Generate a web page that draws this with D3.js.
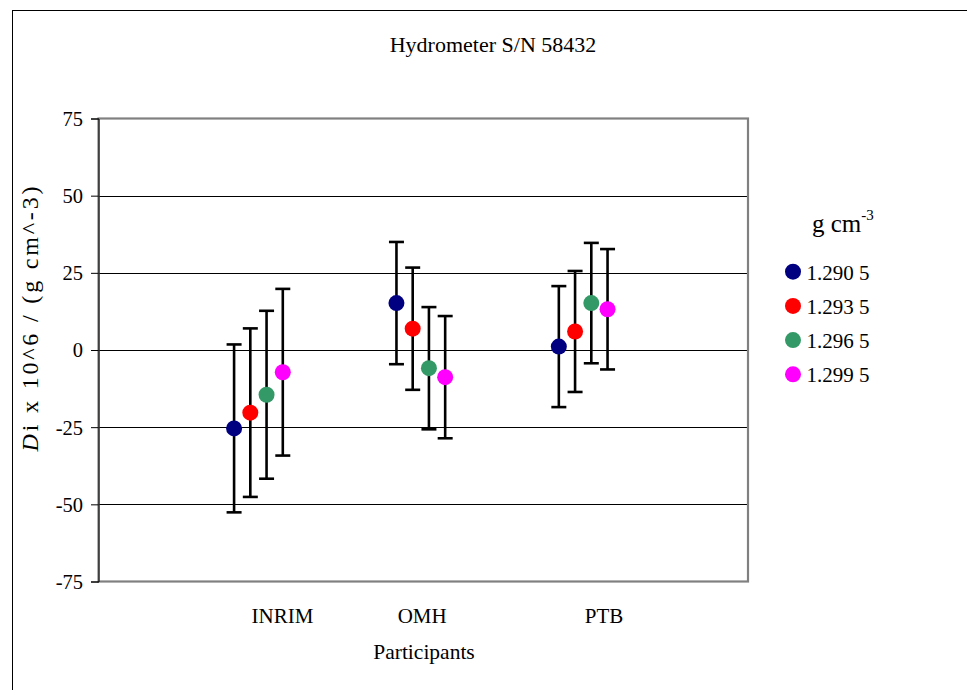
<!DOCTYPE html>
<html><head><meta charset="utf-8">
<script src="https://cdn.jsdelivr.net/npm/d3@7"></script>
<style>body{margin:0;background:#fff}svg{display:block}text{font-family:"Liberation Serif","Times New Roman",Times,serif;fill:#000}</style>
</head><body>
<svg id="c" width="967" height="690" font-family="Liberation Serif, Times New Roman, serif"></svg>
<script>
const participants = ["INRIM","OMH","PTB"];
const seriesNames = ["1.290 5","1.293 5","1.296 5","1.299 5"];
const seriesColors = ["#000080","#ff0000","#339966","#ff00ff"];
// values [series][participant]
const values = [
  [-25.4, 15.2, 1.1],
  [-20.3, 6.9, 6.0],
  [-14.5, -5.9, 15.2],
  [-7.2, -8.8, 13.2]
];
const errors = [
  [27.2, 19.8, 19.6],
  [27.3, 19.8, 19.6],
  [27.2, 19.8, 19.5],
  [27.0, 19.8, 19.5]
];
const seriesOffset = [-0.165, -0.065, 0.035, 0.135];
const labelPos = [1.13, 1.99, 3.11];
const yTicks = [-75,-50,-25,0,25,50,75];

const FONT = '"Liberation Serif","Times New Roman",serif';
const svg = d3.select("#c");
const L=98.5, R=748, T=118.5, B=581.5;
const x = d3.scaleLinear().domain([0,4]).range([L,R]);
const y = d3.scaleLinear().domain([-75,75]).range([B,T]);

// outer border
svg.append("rect").attr("x",12.5).attr("y",10.5).attr("width",1000).attr("height",1000)
  .attr("fill","none").attr("stroke","#000").attr("stroke-width",1);

// gridlines
svg.append("g").selectAll("line").data(yTicks.filter(d=>d>-75&&d<75)).join("line")
  .attr("x1",L).attr("x2",R).attr("y1",d=>Math.round(y(d))+0.5).attr("y2",d=>Math.round(y(d))+0.5)
  .attr("stroke","#000").attr("stroke-width",1);

// plot frame
svg.append("rect").attr("x",L).attr("y",T).attr("width",R-L).attr("height",B-T)
  .attr("fill","none").attr("stroke","#808080").attr("stroke-width",2.2);

// y axis
const ya = svg.append("g").attr("transform",`translate(${L},0)`)
  .call(d3.axisLeft(y).tickValues(yTicks).tickSize(7.5).tickPadding(8).tickFormat(d=>String(d)));
ya.attr("font-family",null).attr("font-size",null);
ya.select(".domain").attr("stroke","#000");
ya.selectAll(".tick line").attr("stroke","#000");
ya.selectAll("text").style("font-size","20.5px").style("font-family",FONT).attr("dy","0.34em");

// x axis labels
const xa = svg.append("g").attr("transform",`translate(0,${B})`)
  .call(d3.axisBottom(x).tickValues(labelPos).tickSize(0).tickPadding(27).tickFormat((d,i)=>participants[i]));
xa.attr("font-family",null).attr("font-size",null);
xa.select(".domain").remove();
xa.selectAll("text").style("font-size","21px").style("font-family",FONT).attr("dy","0.71em");

// error bars & points
seriesNames.forEach((s,si)=>{
  const g = svg.append("g");
  const data = participants.map((p,pi)=>({x:pi+1+seriesOffset[si], v:values[si][pi], e:errors[si][pi]}));
  g.selectAll("line.v").data(data).join("line")
    .attr("x1",d=>x(d.x)).attr("x2",d=>x(d.x)).attr("y1",d=>y(d.v+d.e)).attr("y2",d=>y(d.v-d.e))
    .attr("stroke","#000").attr("stroke-width",2.6);
  g.selectAll("line.t").data(data).join("line")
    .attr("x1",d=>x(d.x)-7.5).attr("x2",d=>x(d.x)+7.5).attr("y1",d=>y(d.v+d.e)).attr("y2",d=>y(d.v+d.e))
    .attr("stroke","#000").attr("stroke-width",2.6);
  g.selectAll("line.b").data(data).join("line")
    .attr("x1",d=>x(d.x)-7.5).attr("x2",d=>x(d.x)+7.5).attr("y1",d=>y(d.v-d.e)).attr("y2",d=>y(d.v-d.e))
    .attr("stroke","#000").attr("stroke-width",2.6);
  g.selectAll("circle").data(data).join("circle")
    .attr("cx",d=>x(d.x)).attr("cy",d=>y(d.v)).attr("r",8).attr("fill",seriesColors[si]);
});

// title
svg.append("text").attr("x",493).attr("y",52).attr("text-anchor","middle").style("font-size","22px").text("Hydrometer S/N 58432");
// x title
svg.append("text").attr("x",424).attr("y",659).attr("text-anchor","middle").style("font-size","21.5px").text("Participants");
// y title
const yt = svg.append("text").attr("transform","translate(38,319) rotate(-90)").attr("text-anchor","middle")
  .style("font-size","24px").attr("textLength",265).attr("lengthAdjust","spacing");
yt.append("tspan").style("font-style","italic").text("D");
yt.append("tspan").text("i  x 10^6 / (g cm^-3)");

// legend
const lt = svg.append("text").attr("x",812).attr("y",232).style("font-size","25px");
lt.append("tspan").text("g cm");
lt.append("tspan").attr("dy",-12).style("font-size","15px").text("-3");
const lg = svg.append("g").selectAll("g").data(seriesNames).join("g")
  .attr("transform",(d,i)=>`translate(793,${271.7+i*34.2})`);
lg.append("circle").attr("r",8).attr("fill",(d,i)=>seriesColors[i]);
lg.append("text").attr("x",13.5).attr("y",8).style("font-size","21px").text(d=>d);
</script>
</body></html>
